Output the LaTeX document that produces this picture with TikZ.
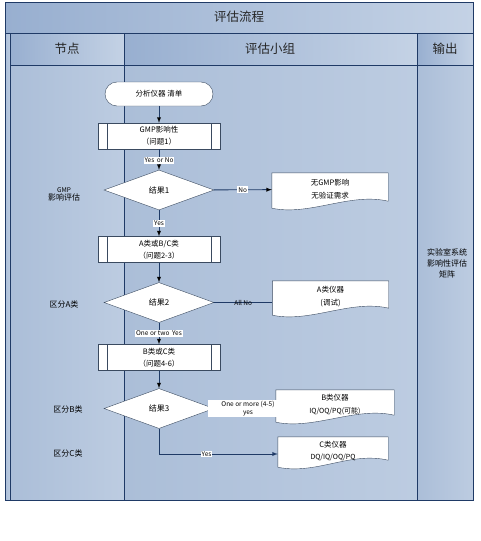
\documentclass[tikz,border=0pt]{standalone}
\usepackage{fontspec}
\setmainfont{Noto Sans CJK SC}
\usetikzlibrary{arrows,shapes.geometric,positioning}

\definecolor{lane}{HTML}{ABBED8}
\definecolor{lanelight}{HTML}{C4D2E5}
\definecolor{headdark}{HTML}{98AFD0}
\definecolor{edge}{HTML}{1F3A66}
\definecolor{shapeline}{HTML}{3A4A60}

\pgfdeclarelayer{bg}
\pgfdeclarelayer{docs}
\pgfsetlayers{bg,docs,main}

\tikzset{
  cell/.style={draw=edge, line width=0.8pt, left color=headdark, right color=lanelight},
  body/.style={draw=edge, line width=0.8pt, left color=lane, right color=lanelight!70!lane},
  head/.style={font=\fontsize{12.5}{14}\selectfont, text=black!85},
  terminal/.style={draw=shapeline, fill=white, rounded corners=12pt, minimum width=108pt,
    minimum height=24pt, text=black, font=\fontsize{7.5}{9}\selectfont},
  process/.style={draw=shapeline, fill=white, minimum width=122pt, minimum height=26pt,
    align=center, inner sep=1pt, text=black, font=\fontsize{7.5}{12}\selectfont,
    path picture={\draw[shapeline]
      ([xshift=9pt]path picture bounding box.north west) -- ([xshift=9pt]path picture bounding box.south west)
      ([xshift=-9pt]path picture bounding box.north east) -- ([xshift=-9pt]path picture bounding box.south east);}},
  decision/.style={diamond, draw=shapeline, fill=white, inner sep=0pt, minimum width=110pt,
    minimum height=40pt, text=black, font=\fontsize{8}{9}\selectfont},
  docbox/.style={minimum width=116pt, align=center, inner sep=1pt, text=black,
    font=\fontsize{7.5}{13}\selectfont},
  docline/.style={draw=shapeline, fill=white},
  flow/.style={draw=edge, line width=0.9pt},
  lbl/.style={fill=white, inner sep=1pt, text=black, font=\fontsize{6.5}{7.5}\selectfont},
  note/.style={align=center, text=black, font=\fontsize{8}{11}\selectfont}
}

\begin{document}
\begin{tikzpicture}[x=1pt,y=-1pt,>=latex,node distance=50pt]
\useasboundingbox (0,0) rectangle (481,541);

% lanes
\begin{pgfonlayer}{bg}
\fill[white] (0,0) rectangle (481,541);
\path[cell] (5,2) rectangle (473,33);
\path[body] (5,33) rectangle (10,500);
\path[cell] (10,33) rectangle (124,65);
\path[cell] (124,33) rectangle (417,65);
\path[cell] (417,33) rectangle (473,65);
\path[body] (10,65) rectangle (124,500);
\path[body] (124,65) rectangle (417,500);
\path[body] (417,65) rectangle (473,500);
\end{pgfonlayer}

\node[head] (title)  at (239,17) {评估流程};
\node[head] (hnode)  at (67,49)  {节点};
\node[head] (hgroup) at (270,49) {评估小组};
\node[head] (hout)   at (445,49) {输出};

% left lane
\node[note] (ngmp) at (64,194) {{\fontsize{6.5}{7}\selectfont GMP}\\[-3pt]影响评估};
\node[note] (nA)   at (64,304) {区分A类};
\node[note] (nB)   at (68,409) {区分B类};
\node[note] (nC)   at (68,453) {区分C类};

% right lane
\node[note] (matrix) at (447,263) {实验室系统\\影响性评估\\矩阵};

% flow
\node[terminal] (start) at (159,94)                          {分析仪器 清单};
\node[process]  (gmpq) [below of=start, node distance=42pt]  {GMP影响性\\（问题1）};
\node[decision] (res1) [below of=gmpq, node distance=54pt]   {结果1};
\node[process]  (abcq) [below of=res1, node distance=59.5pt] {A类或B/C类\\（问题2-3）};
\node[decision] (res2) [below of=abcq, node distance=53pt]   {结果2};
\node[process]  (bcq)  [below of=res2, node distance=55pt]   {B类或C类\\（问题4-6）};
\node[decision] (res3) [below of=bcq, node distance=51pt]    {结果3};

\node[docbox, minimum height=33pt] (noimp) at (330,189.5) {无GMP影响\\无验证需求};
\node[docbox, minimum height=32pt] (clsA)  at (330.5,297) {A类仪器\\(调试)};
\node[docbox, minimum height=30pt, minimum width=118pt] (clsB) at (335,405)
  {B类仪器\\{\fontsize{7}{8}\selectfont IQ/OQ/PQ(可能)}};
\node[docbox, minimum height=28pt, minimum width=110pt, font=\fontsize{7.5}{12}\selectfont] (clsC) at (333,451)
  {C类仪器\\{\fontsize{7}{8}\selectfont DQ/IQ/OQ/PQ}};

\begin{pgfonlayer}{docs}
\foreach \d in {noimp,clsA,clsB,clsC}
  \path[docline] (\d.north west) -- (\d.north east) -- ([yshift=5pt]\d.south east)
    .. controls ([xshift=-38pt,yshift=14pt]\d.south east) and ([xshift=38pt,yshift=-10pt]\d.south west)
    .. ([yshift=-2pt]\d.south west) -- cycle;
\end{pgfonlayer}

\path[flow,->] (start) edge (gmpq)
               (gmpq)  edge node[lbl,pos=0.55] {Yes\, or No} (res1)
               (res1)  edge node[lbl] {No} (noimp)
                       edge node[lbl] {Yes} (abcq)
               (abcq)  edge (res2)
               (res2)  edge node[lbl] {One or two\, Yes} (bcq)
               (bcq)   edge (res3);
\draw[flow] (res2.east) -- node[lbl,fill=none] {All No} (res2.east -| clsA.west);
\draw[flow,->] (res3.east) -- node[lbl,align=center,font=\fontsize{6.5}{8}\selectfont,
    minimum width=80pt,xshift=3pt] {One or more (4-5)\\yes} (res3.east -| clsB.west);
\draw[flow,->] (res3.south) |- node[lbl,pos=0.7] {Yes} ([yshift=-3pt]clsC.west);

\end{tikzpicture}
\end{document}
